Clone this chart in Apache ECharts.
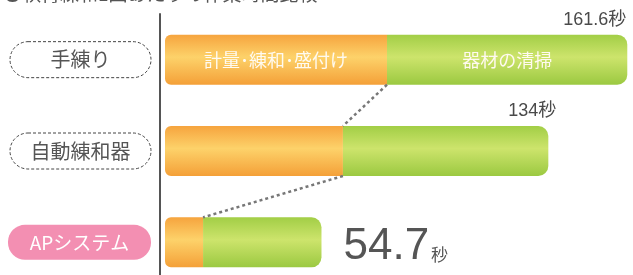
<!DOCTYPE html>
<html>
<head>
<meta charset="utf-8">
<script src="https://cdn.jsdelivr.net/npm/echarts@6/dist/echarts.min.js"></script>
<style>
  html, body { margin: 0; padding: 0; background: #fff; }
  #main { width: 633px; height: 275px; }
</style>
</head>
<body>
<div id="main"></div>
<script>
// 作業時間比較 (秒)
var categories = ['手練り', '自動練和器', 'APシステム'];
var prepTime = [77.6, 62.2, 13.3];     // 計量・練和・盛付け
var cleanTime = [84.0, 71.8, 41.4];    // 器材の清掃
var totals = [161.6, 134, 54.7];
var segNames = ['計量･練和･盛付け', '器材の清掃'];

var FONT = '"Liberation Sans", "Noto Sans CJK JP", sans-serif';
var JP = '"Noto Sans CJK JP", sans-serif';

var chart = echarts.init(document.getElementById('main'));

function cyl(c1, c2, c3) {
    return new echarts.graphic.LinearGradient(0, 0, 0, 1, [
        {offset: 0, color: c1},
        {offset: 0.45, color: c2},
        {offset: 1, color: c3}
    ]);
}

var orange = cyl('#f6a43e', '#fdd26a', '#f4a038');
var green = cyl('#a2ce46', '#cde46c', '#9bc941');

var greenData = cleanTime.map(function (v, i) {
    var item = {value: v};
    if (i < 2) {
        item.label = {
            show: true, position: ['100%', 0], align: 'right', verticalAlign: 'bottom',
            offset: [i === 0 ? -1 : 8, -6], fontSize: 18, color: '#4a4a4a',
            formatter: totals[i] + '秒'
        };
    } else {
        item.label = {
            show: true, position: 'right', distance: 22, offset: [0, 5],
            formatter: '{n|' + totals[i] + '}{s|秒}',
            rich: {
                n: {fontSize: 44, color: '#555', fontFamily: FONT},
                s: {fontSize: 17, color: '#555', fontFamily: JP, padding: [14, 0, 0, 2]}
            }
        };
    }
    return item;
});

var orangeData = prepTime.map(function (v, i) {
    var item = {value: v};
    if (i === 0) {
        item.label = {show: true, position: 'inside', formatter: segNames[0],
            fontSize: 18, color: '#fffaf0', fontFamily: JP};
    }
    return item;
});

var option = {
    animation: false,
    textStyle: {fontFamily: FONT},
    title: {
        text: '●軟膏練和1回あたりの作業時間比較',
        left: -2, top: -21,
        textStyle: {fontSize: 19, fontWeight: 'normal', color: '#555', fontFamily: JP}
    },
    grid: {left: 160, top: 14, width: 473, height: 274, outerBoundsMode: 'none', containLabel: false},
    xAxis: {
        type: 'value', min: -1.75, max: 163.6,
        show: false
    },
    yAxis: {
        type: 'category', data: categories, inverse: true,
        axisLine: {onZero: false, lineStyle: {color: '#555', width: 2}},
        axisTick: {show: false},
        axisLabel: {
            margin: 9,
            formatter: function (v, i) {
                return i === 2 ? '{p|' + v + '}' : '{b|' + v + '}';
            },
            rich: {
                b: {
                    width: 141, height: 36, lineHeight: 36, align: 'center',
                    fontSize: 20, color: '#555', fontFamily: JP,
                    borderColor: '#444', borderWidth: 1, borderType: [3, 2],
                    borderRadius: 18
                },
                p: {
                    width: 143, height: 35, lineHeight: 35, align: 'center',
                    fontSize: 19, color: '#fff', fontFamily: JP,
                    backgroundColor: '#f38fb2', borderRadius: 17
                }
            }
        }
    },
    series: [{
        type: 'bar', stack: 't', barWidth: 50,
        data: orangeData,
        itemStyle: {color: orange, borderRadius: [6, 0, 0, 6]}
    }, {
        type: 'bar', stack: 't', barWidth: 50,
        data: greenData,
        itemStyle: {color: green, borderRadius: [0, 10, 10, 0]}
    }]
};

chart.setOption(option);

// green text "器材の清掃" and dotted connectors, placed through the axes
var gfx = [];
var c0 = chart.convertToPixel({seriesIndex: 0}, [prepTime[0] + cleanTime[0] / 2, 0]);
gfx.push({
    type: 'text', x: c0[0], y: c0[1], z: 20,
    style: {text: segNames[1], fontSize: 18, fill: '#fffaf0', fontFamily: JP,
        align: 'center', verticalAlign: 'middle'}
});
for (var i = 0; i < 2; i++) {
    var a = chart.convertToPixel({seriesIndex: 0}, [prepTime[i], i]);
    var b = chart.convertToPixel({seriesIndex: 0}, [prepTime[i + 1], i + 1]);
    gfx.push({
        type: 'line', z: 20,
        shape: {x1: a[0], y1: a[1] + 25, x2: b[0], y2: b[1] - 25},
        style: {stroke: '#777', lineWidth: 2.5, lineDash: [3, 3]}
    });
}
chart.setOption({graphic: gfx});
</script>
</body>
</html>
